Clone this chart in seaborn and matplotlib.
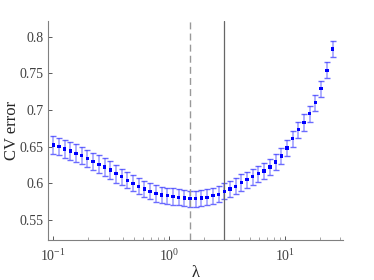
import numpy as np
import pandas as pd
import matplotlib
matplotlib.use('Agg')
import matplotlib.pyplot as plt
import seaborn as sns
from matplotlib.ticker import FormatStrFormatter, LogLocator

# lambda grid (geometric spacing)
lam = [0.100, 0.1120, 0.1254, 0.1404, 0.1573, 0.1761, 0.1972, 0.2209, 0.2474, 0.2771,
       0.3103, 0.3475, 0.3892, 0.4358, 0.4881, 0.5467, 0.6122, 0.6857, 0.7679, 0.8600,
       0.9631, 1.079, 1.208, 1.353, 1.515, 1.697, 1.900, 2.128, 2.383, 2.669,
       2.989, 3.348, 3.749, 4.199, 4.702, 5.266, 5.898, 6.605, 7.396, 8.284,
       9.276, 10.39, 11.63, 13.03, 14.59, 16.34, 18.30, 20.49, 22.95, 25.70]

# mean CV error
cv_err = [0.652, 0.650, 0.647, 0.644, 0.641, 0.638, 0.634, 0.630, 0.626, 0.622,
          0.618, 0.613, 0.609, 0.604, 0.600, 0.596, 0.592, 0.589, 0.586, 0.584,
          0.583, 0.582, 0.581, 0.580, 0.579, 0.579, 0.580, 0.581, 0.583, 0.585,
          0.589, 0.592, 0.596, 0.601, 0.605, 0.609, 0.613, 0.617, 0.622, 0.629,
          0.637, 0.648, 0.661, 0.673, 0.683, 0.695, 0.710, 0.729, 0.754, 0.783]

# standard error of CV error
cv_se = [0.012, 0.012, 0.012, 0.012, 0.012, 0.012, 0.012, 0.012, 0.012, 0.012,
         0.012, 0.012, 0.011, 0.011, 0.011, 0.011, 0.011, 0.011, 0.011, 0.011,
         0.011, 0.011, 0.011, 0.011, 0.011, 0.011, 0.011, 0.011, 0.011, 0.011,
         0.011, 0.011, 0.011, 0.011, 0.011, 0.011, 0.011, 0.011, 0.011, 0.011,
         0.011, 0.011, 0.011, 0.011, 0.011, 0.011, 0.011, 0.011, 0.011, 0.011]

lam_min = 1.515   # dashed line
lam_1se = 2.989   # solid line

df = pd.DataFrame({'lambda': lam, 'cv': cv_err, 'se': cv_se})

sns.set_style('ticks')
plt.rcParams['font.family'] = ['Liberation Serif', 'DejaVu Serif']
plt.rcParams['mathtext.fontset'] = 'stix'
plt.rcParams['xtick.direction'] = 'in'
plt.rcParams['ytick.direction'] = 'in'

fig = plt.figure(figsize=(3.74, 2.80), dpi=100)
ax = fig.add_axes([0.128, 0.143, 0.789, 0.782])

_, caps, bars = ax.errorbar(df['lambda'], df['cv'], yerr=df['se'], fmt='none',
                            ecolor='#3a3aff', elinewidth=1.4, capsize=2.2, capthick=1.0)
for b in bars:
    b.set_alpha(0.4)
for c in caps:
    c.set_alpha(0.75)
sns.scatterplot(data=df, x='lambda', y='cv', ax=ax, color='#0000ff', marker='s',
                s=6, edgecolor='none', zorder=3)

ax.axvline(lam_min, color='#999999', linestyle=(0, (5, 3)), linewidth=1.0)
ax.axvline(lam_1se, color='#666666', linestyle='-', linewidth=0.9)

ax.set_xscale('log')
ax.set_xlim(10 ** -1.046, 10 ** 1.5)
ax.set_ylim(0.5227, 0.8214)
ax.set_yticks([0.55, 0.6, 0.65, 0.7, 0.75, 0.8])
ax.yaxis.set_major_formatter(FormatStrFormatter('%g'))
ax.xaxis.set_major_locator(LogLocator(base=10, numticks=10))
ax.xaxis.set_minor_locator(LogLocator(base=10, subs=np.arange(2, 10), numticks=20))

ax.set_xlabel('λ', fontsize=12)
ax.xaxis.set_label_coords(0.5, -0.115)
ax.set_ylabel('CV error', fontsize=12)
ax.yaxis.set_label_coords(-0.093, 0.5)
ax.tick_params(axis='both', labelsize=10, colors='#404040', length=3, width=0.6, pad=3)
ax.tick_params(axis='x', which='major', pad=6)
ax.tick_params(axis='x', which='minor', length=2, width=0.5, color='#808080')

sns.despine(ax=ax)
for s in ['left', 'bottom']:
    ax.spines[s].set_color('#808080')
    ax.spines[s].set_linewidth(0.8)

fig.savefig('out.png', dpi=100)
